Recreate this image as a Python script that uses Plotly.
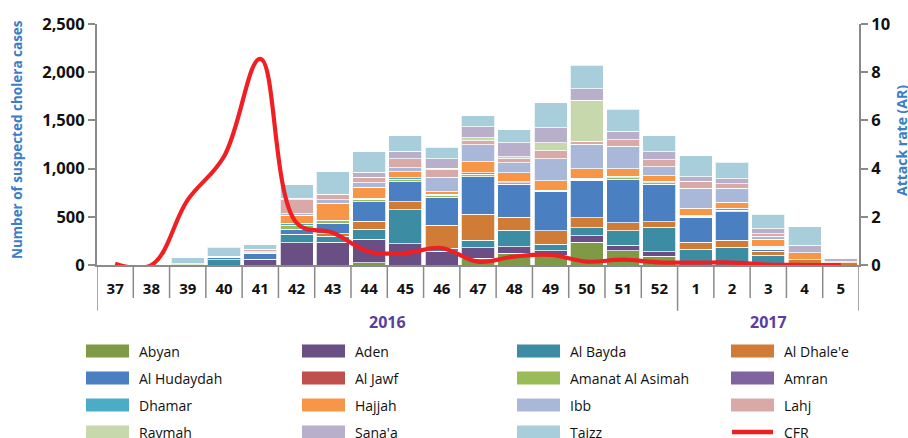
import plotly.graph_objects as go

weeks = ["37","38","39","40","41","42","43","44","45","46","47","48","49","50","51","52","1","2","3","4","5"]

regions = ["Abyan","Aden","Al Bayda","Al Dhale'e","Al Hudaydah","Al Jawf","Amanat Al Asimah",
           "Amran","Dhamar","Hajjah","Ibb","Lahj","Raymah","Sana'a","Taizz"]

colors = ["#7E9A47","#6A4F85","#3C8CA4","#D07C36","#4A7FC1","#C0504D","#9BBB59",
          "#8064A2","#4BACC6","#F79646","#A9B7D8","#D9A9A8","#C7D8AC","#B8AFCA","#A8CDDB"]

#              37 38 39  40  41  42   43   44   45   46   47   48   49   50   51   52   1    2    3    4   5
abyan       = [0, 0, 0,  0,  0,  0,   0,   24,  0,   0,   69,  121, 103, 235, 148, 93,  0,   0,   0,   0,  0]
aden        = [0, 0, 0,  0,  60, 231, 238, 241, 221, 145, 110, 69,  45,  69,  59,  45,  0,   0,   0,   0,  0]
al_bayda    = [0, 0, 5,  55, 0,  90,  62,  104, 352, 28,  76,  169, 69,  83,  148, 255, 162, 186, 100, 0,  0]
al_dhalee   = [0, 0, 0,  0,  0,  0,   24,  86,  83,  238, 269, 135, 138, 104, 83,  55,  76,  69,  45,  55, 24]
al_hudaydah = [0, 0, 0,  25, 55, 52,  107, 200, 207, 290, 390, 345, 411, 390, 452, 390, 259, 300, 20,  0,  0]
al_jawf     = [0, 0, 0,  0,  0,  0,   0,   0,   0,   0,   0,   0,   0,   0,   0,   0,   0,   0,   0,   0,  0]
amanat      = [0, 0, 8,  10, 5,  41,  34,  28,  24,  15,  28,  12,  10,  10,  15,  15,  10,  14,  10,  0,  0]
amran       = [0, 0, 0,  0,  0,  0,   0,   0,   0,   8,   0,   12,  0,   0,   0,   0,   0,   0,   8,   0,  0]
dhamar      = [0, 0, 0,  0,  0,  17,  0,   10,  17,  12,  14,  0,   0,   11,  16,  16,  11,  21,  14,  0,  0]
hajjah      = [0, 0, 0,  0,  8,  86,  176, 114, 62,  24,  114, 93,  97,  97,  76,  59,  72,  59,  68,  72, 10]
ibb         = [0, 0, 0,  0,  10, 17,  38,  48,  41,  148, 179, 107, 231, 252, 235, 90,  204, 145, 35,  0,  0]
lahj        = [0, 0, 0,  0,  20, 145, 55,  55,  97,  79,  38,  41,  79,  31,  69,  76,  76,  48,  25,  0,  0]
raymah      = [0, 0, 0,  0,  0,  0,   0,   0,   0,   17,  31,  17,  86,  428, 0,   0,   0,   0,   0,   0,  0]
sanaa       = [0, 0, 0,  0,  8,  14,  0,   52,  76,  100, 114, 145, 155, 117, 86,  79,  45,  52,  50,  79, 35]
taizz       = [0, 0, 62, 95, 42,  138, 235, 215, 162, 117, 114, 138, 259, 245, 228, 169, 217, 172, 150, 190, 0]

series = [abyan, aden, al_bayda, al_dhalee, al_hudaydah, al_jawf, amanat, amran,
          dhamar, hajjah, ibb, lahj, raymah, sanaa, taizz]

cfr = [0.05, 0.0, 2.7, 4.5, 8.55, 1.75, 1.34, 0.55, 0.5, 0.7, 0.14, 0.35, 0.42, 0.14, 0.22, 0.11, 0.1, 0.1, 0.02, 0.0, 0.0]

left_ticks = [0, 500, 1000, 1500, 2000, 2500]
right_ticks = [0, 2, 4, 6, 8, 10]
years = ["2016", "2017"]
year_centers = [7.5, 18]

FONT = "Open Sans"
BLUE = "#3A7DC9"
GRAY = "#8A8A8A"

fig = go.Figure()
for name, vals, col in zip(regions, series, colors):
    fig.add_trace(go.Bar(x=weeks, y=vals, name=name, marker_color=col,
                         marker_line_color="rgba(255,255,255,0.75)", marker_line_width=1,
                         showlegend=False))

fig.add_trace(go.Scatter(x=weeks, y=cfr, name="CFR", yaxis="y2", mode="lines",
                         line=dict(color="#EE2024", width=4.2, shape="spline", smoothing=1.1),
                         showlegend=False))

shapes = []
annotations = []

# category dividers below the axis
n = len(weeks)
long_bounds = {0, 16, n}
for b in range(n + 1):
    y0 = -0.19 if b in long_bounds else -0.137
    shapes.append(dict(type="line", xref="x", yref="paper", x0=b - 0.5, x1=b - 0.5,
                       y0=0, y1=y0, line=dict(color=GRAY, width=1.5)))

for yr, xc in zip(years, year_centers):
    annotations.append(dict(text=yr, x=xc, xref="x", y=-0.237, yref="paper", showarrow=False,
                            xanchor="center", yanchor="middle",
                            font=dict(family=FONT, size=16, color="#5A3E9B", weight="bold")))

W = 762.0
H = 241.0
def px(x):
    return (x - 97) / W
def py(y):
    return (265 - y) / H

# axis titles
annotations.append(dict(text="Number of suspected cholera cases", textangle=-90, x=px(17), xref="paper",
                        y=py(140), yref="paper", showarrow=False, xanchor="center", yanchor="middle",
                        font=dict(family=FONT, size=13.5, color=BLUE, weight="bold")))
annotations.append(dict(text="Attack rate (AR)", textangle=-90, x=px(901), xref="paper",
                        y=py(140), yref="paper", showarrow=False, xanchor="center", yanchor="middle",
                        font=dict(family=FONT, size=14, color=BLUE, weight="bold")))

# manual legend (4 columns x 4 rows)
legend_names = regions + ["CFR"]
legend_colors = colors + ["#EE2024"]
col_x = [86, 302, 517, 731]
row_y = [351, 378, 405, 432]
for i, (nm, col) in enumerate(zip(legend_names, legend_colors)):
    c = i % 4
    r = i // 4
    x0 = col_x[c]
    yc = row_y[r]
    if nm == "CFR":
        shapes.append(dict(type="line", xref="paper", yref="paper", x0=px(x0 + 1), x1=px(x0 + 42),
                           y0=py(yc), y1=py(yc), line=dict(color=col, width=4.5)))
    else:
        shapes.append(dict(type="rect", xref="paper", yref="paper", x0=px(x0), x1=px(x0 + 43),
                           y0=py(yc - 6.5), y1=py(yc + 6.5), fillcolor=col, line=dict(width=0)))
    annotations.append(dict(text=nm, x=px(x0 + 51), xref="paper", y=py(yc), yref="paper",
                            xanchor="left", yanchor="middle", showarrow=False,
                            font=dict(family=FONT, size=14, color="#111111")))

fig.update_layout(
    width=908, height=438,
    margin=dict(l=97, r=49, t=24, b=173),
    barmode="stack", bargap=0.09,
    plot_bgcolor="white", paper_bgcolor="white",
    font=dict(family=FONT, color="#111111"),
    xaxis=dict(type="category", categoryorder="array", categoryarray=weeks,
               showline=True, linecolor=GRAY, linewidth=2,
               ticks="outside", ticklen=9, tickcolor="rgba(0,0,0,0)",
               tickfont=dict(family=FONT, size=15, color="#111111", weight="bold"),
               range=[-0.5, n - 0.5], showgrid=False, zeroline=False),
    yaxis=dict(range=[0, 2500], tickvals=left_ticks, tickformat=",", showgrid=False, zeroline=False,
               showline=True, linecolor=GRAY, linewidth=2, ticks="outside", ticklen=7,
               tickcolor=GRAY, tickwidth=2,
               tickfont=dict(family=FONT, size=16.5, color="#111111", weight="bold")),
    yaxis2=dict(range=[0, 10], tickvals=right_ticks, overlaying="y", side="right",
                showgrid=False, zeroline=False, showline=True, linecolor=GRAY, linewidth=2,
                ticks="outside", ticklen=7, tickcolor=GRAY, tickwidth=2,
                tickfont=dict(family=FONT, size=16.5, color="#111111", weight="bold")),
    shapes=shapes, annotations=annotations,
)

# remove the default 8px page margin so the figure fills the 908x438 window exactly
fig.write_html("out.html", config={"displayModeBar": False},
               post_script="document.body.style.margin='0';document.body.style.padding='0';"
                           "document.documentElement.style.overflow='hidden';")
